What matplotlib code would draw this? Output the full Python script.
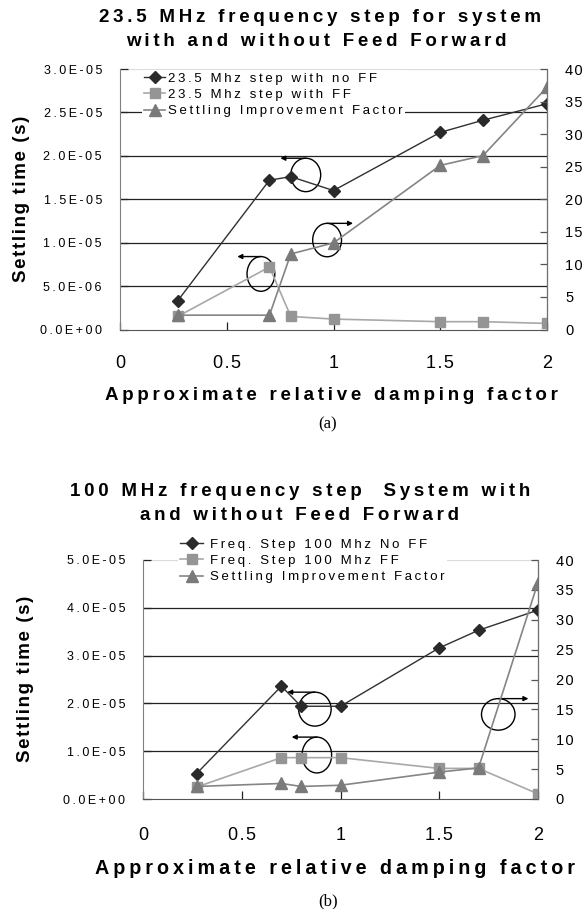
import matplotlib
matplotlib.use("Agg")
import matplotlib.pyplot as plt
from matplotlib.patches import Arc
from matplotlib.ticker import FuncFormatter, MultipleLocator

# damping factor (x) shared by both panels
damping = [0.27, 0.7, 0.8, 1.0, 1.5, 1.7, 2.0]

# (a) 23.5 MHz step
a_noff = [3.3e-6, 1.72e-5, 1.76e-5, 1.60e-5, 2.27e-5, 2.41e-5, 2.60e-5]
a_ff = [1.5e-6, 7.2e-6, 1.5e-6, 1.2e-6, 0.9e-6, 0.9e-6, 0.7e-6]
a_factor = [2.2, 2.2, 11.6, 13.3, 25.2, 26.7, 37.2]
a_labels = ["23.5 Mhz step with no FF", "23.5 Mhz step with FF",
            "Settling Improvement Factor"]
a_title = ["23.5 MHz frequency step for system", "with and without Feed Forward"]

# (b) 100 MHz step
b_noff = [5.3e-6, 2.36e-5, 1.94e-5, 1.94e-5, 3.16e-5, 3.53e-5, 3.95e-5]
b_ff = [2.5e-6, 8.65e-6, 8.65e-6, 8.65e-6, 6.4e-6, 6.4e-6, 1.1e-6]
b_factor = [2.1, 2.6, 2.1, 2.3, 4.5, 5.2, 36.1]
b_labels = ["Freq. Step 100 Mhz No FF", "Freq. Step 100 Mhz FF",
            "Settling Improvement Factor"]
b_title = ["100 MHz frequency step  System with", "and without Feed Forward"]

FAM = ["Liberation Sans", "DejaVu Sans"]
plt.rcParams["font.family"] = FAM

W, H = 586, 909
THIN = "\u2009"
HAIR = "\u200a"


def spaced(s, sep=THIN):
    # the original uses very wide letter spacing
    return sep.join(s)


def fx(px):
    return px / W


def fy(py):
    return 1 - py / H


def loop(ax, cx, cy, w, h, side):
    # little "this curve -> that axis" loops
    if side == "left":
        arc = Arc((cx, cy), w, h, theta1=140, theta2=450, lw=1.0, color="k")
        ax.annotate("", xy=(cx - w * 0.85, cy + h / 2), xytext=(cx, cy + h / 2),
                    arrowprops=dict(arrowstyle="-|>", lw=1.0, color="k",
                                    mutation_scale=7, shrinkA=0, shrinkB=0))
    else:
        arc = Arc((cx, cy), w, h, theta1=90, theta2=400, lw=1.0, color="k")
        ax.annotate("", xy=(cx + w * 0.9, cy + h / 2), xytext=(cx, cy + h / 2),
                    arrowprops=dict(arrowstyle="-|>", lw=1.0, color="k",
                                    mutation_scale=7, shrinkA=0, shrinkB=0))
    ax.add_patch(arc)


def panel(rect, noff, ff, factor, ymax, ystep, xpad):
    ax = fig.add_axes(rect)
    ax2 = ax.twinx()

    l1, = ax.plot(damping, noff, color="#303030", lw=1.0, marker="D", ms=6.5,
                  mfc="#2a2a2a", mec="#2a2a2a", zorder=4)
    l2, = ax.plot(damping, ff, color="#a8a8a8", lw=1.2, marker="s", ms=7.5,
                  mfc="#959595", mec="#959595", zorder=3)
    l3, = ax2.plot(damping, factor, color="#858585", lw=1.2, marker="^", ms=8,
                   mfc="#7a7a7a", mec="#7a7a7a")

    ax.set_xlim(0, 2)
    ax.set_ylim(0, ymax)
    ax2.set_ylim(0, 40)
    ax.xaxis.set_major_locator(MultipleLocator(0.5))
    ax.yaxis.set_major_locator(MultipleLocator(ystep))
    ax2.yaxis.set_major_locator(MultipleLocator(5))
    ax.yaxis.set_major_formatter(FuncFormatter(lambda v, p: spaced(f"{v:.1E}")))
    ax.xaxis.set_major_formatter(FuncFormatter(lambda v, p: spaced(f"{v:g}", HAIR)))
    ax2.yaxis.set_major_formatter(FuncFormatter(lambda v, p: spaced(f"{v:g}", HAIR)))

    for t in ax.get_yticks():
        if 0 < t < ymax * 0.999:
            ax.axhline(t, color="#222222", lw=0.9, zorder=1)
    ax.axhline(ymax, color="#dcdcdc", lw=0.9, zorder=1)

    ax.tick_params(axis="y", direction="in", length=6, width=0.9, color="#222222",
                   labelsize=9, pad=13)
    ax.tick_params(axis="x", direction="in", length=6, width=0.9, color="#222222",
                   labelsize=13, pad=xpad)
    ax2.tick_params(axis="y", direction="in", length=5, width=0.9, color="#555555",
                    labelsize=10.5, pad=13)

    ax.spines["top"].set_visible(False)
    ax2.spines["top"].set_visible(False)
    ax.spines["left"].set_color("#808080")
    ax.spines["bottom"].set_color("#555555")
    ax2.spines["right"].set_color("#707070")
    ax2.spines["left"].set_visible(False)
    ax2.spines["bottom"].set_visible(False)
    ax.set_facecolor("none")
    return ax, ax2, [l1, l2, l3]


def legend(ax2, lines, labels, x, y, hl, htp):
    ax2.legend(lines, [spaced(s) for s in labels], loc="upper left",
               bbox_to_anchor=(fx(x), fy(y)), bbox_transform=fig.transFigure,
               fontsize=9.5, frameon=True, fancybox=False, edgecolor="none",
               facecolor="white", framealpha=1, borderpad=0.2,
               handlelength=hl, handletextpad=htp, labelspacing=0.3,
               borderaxespad=0)


fig = plt.figure(figsize=(W / 100, H / 100), dpi=100)

# ---------- panel (a) ----------
ax, ax2, lines = panel([fx(120), fy(329.5), fx(547) - fx(120), fy(69) - fy(329.5)],
                       a_noff, a_ff, a_factor, 3e-5, 5e-6, 18)
legend(ax2, lines, a_labels, 141.5, 70, 1.6, 0.23)
loop(ax, 0.87, 1.78e-5, 0.14, 3.85e-6, "left")
loop(ax, 0.66, 6.4e-6, 0.13, 4.0e-6, "left")
loop(ax, 0.97, 1.03e-5, 0.135, 3.85e-6, "right")

fig.text(fx(320), fy(17), spaced(a_title[0]), ha="center", va="center",
         fontsize=13.5, fontweight="bold")
fig.text(fx(316), fy(42), spaced(a_title[1]), ha="center", va="center",
         fontsize=13.5, fontweight="bold")
fig.text(fx(22), fy(199), spaced("Settling time (s)", HAIR), rotation=90,
         ha="center", va="center", fontsize=13.5, fontweight="bold")
fig.text(fx(331), fy(395), spaced("Approximate relative damping factor"),
         ha="center", va="center", fontsize=13.5, fontweight="bold")
fig.text(fx(328), fy(424), "(a)", ha="center", va="center", fontsize=12,
         family=["Liberation Serif", "DejaVu Serif"])

# ---------- panel (b) ----------
bx, bx2, lines = panel([fx(143.3), fy(799), fx(537.7) - fx(143.3), fy(560) - fy(799)],
                       b_noff, b_ff, b_factor, 5e-5, 1e-5, 20)
legend(bx2, lines, b_labels, 177.5, 536, 1.75, 0.5)
loop(bx, 0.87, 1.88e-5, 0.165, 7.1e-6, "left")
loop(bx, 0.88, 9.2e-6, 0.15, 7.5e-6, "left")
loop(bx, 1.80, 1.77e-5, 0.17, 6.6e-6, "right")

fig.text(fx(300), fy(492), spaced(b_title[0]), ha="center", va="center",
         fontsize=13.5, fontweight="bold")
fig.text(fx(300), fy(515), spaced(b_title[1]), ha="center", va="center",
         fontsize=13.5, fontweight="bold")
fig.text(fx(26), fy(679), spaced("Settling time (s)", HAIR), rotation=90,
         ha="center", va="center", fontsize=13.5, fontweight="bold")
fig.text(fx(335), fy(868), spaced("Approximate relative damping factor"),
         ha="center", va="center", fontsize=14.2, fontweight="bold")
fig.text(fx(328), fy(901), "(b)", ha="center", va="center", fontsize=12,
         family=["Liberation Serif", "DejaVu Serif"])

fig.savefig("out.png", dpi=100, facecolor="white")
